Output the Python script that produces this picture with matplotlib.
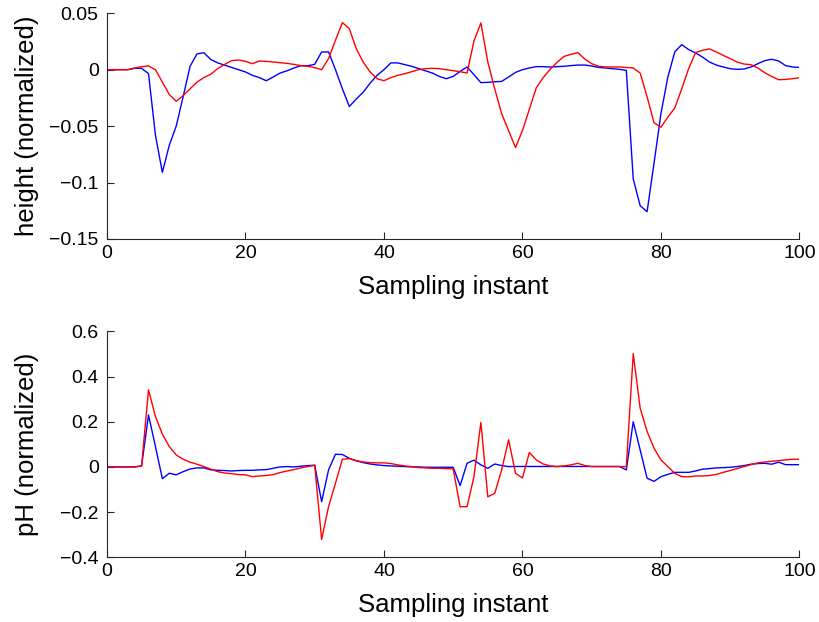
import matplotlib
matplotlib.use("Agg")
import matplotlib.pyplot as plt
import numpy as np

plt.rcParams['font.family'] = ['Liberation Sans', 'DejaVu Sans']

# ---- data ----
samples = list(range(101))

height_blue = [0, 0, 0, 0, 0.0012, 0.0012, -0.0035, -0.058, -0.091, -0.067,
               -0.050, -0.024, 0.003, 0.014, 0.015, 0.009, 0.006, 0.004, 0.002, 0.000,
               -0.002, -0.005, -0.007, -0.0098, -0.0065, -0.003, -0.001, 0.0015, 0.0035, 0.0035,
               0.0047, 0.0157, 0.0157, 0.000, -0.017, -0.0326, -0.026, -0.020, -0.012, -0.005,
               0.000, 0.006, 0.006, 0.0045, 0.003, 0.001, -0.001, -0.003, -0.006, -0.008,
               -0.006, -0.0015, 0.0024, -0.0044, -0.0115, -0.0112, -0.0107, -0.0104, -0.0065, -0.0024,
               0.000, 0.0015, 0.0027, 0.0027, 0.0024, 0.0027, 0.003, 0.0036, 0.0041, 0.0041,
               0.0033, 0.002, 0.0015, 0.0009, 0.0003, -0.0006, -0.0968, -0.1205, -0.1258, -0.083,
               -0.039, -0.0065, 0.0157, 0.0222, 0.0178, 0.0148, 0.0112, 0.0068, 0.0041, 0.0024,
               0.0009, 0.0003, 0.0006, 0.0024, 0.0053, 0.008, 0.0092, 0.0077, 0.0036, 0.0024,
               0.002]

height_red = [0, 0, 0, 0, 0.0015, 0.0027, 0.0033, 0.000, -0.011, -0.022,
              -0.028, -0.023, -0.017, -0.011, -0.007, -0.004, 0.001, 0.0047, 0.008, 0.0086,
              0.0074, 0.0053, 0.0077, 0.0074, 0.0068, 0.0062, 0.0056, 0.0047, 0.0036, 0.003,
              0.0018, 0.000, 0.0098, 0.026, 0.0417, 0.0364, 0.0186, 0.0068, -0.002, -0.008,
              -0.0098, -0.007, -0.005, -0.0036, -0.0018, 0.000, 0.0009, 0.0012, 0.0009, 0.000,
              -0.0009, -0.0018, -0.003, 0.0255, 0.0414, 0.0068, -0.017, -0.039, -0.054, -0.069,
              -0.054, -0.035, -0.016, -0.007, 0.0003, 0.0065, 0.0118, 0.0136, 0.0151, 0.0095,
              0.0053, 0.003, 0.0024, 0.0024, 0.0024, 0.002, 0.0015, -0.003, -0.024, -0.047,
              -0.051, -0.042, -0.034, -0.017, 0.0009, 0.0151, 0.0172, 0.0184, 0.0157, 0.0127,
              0.0098, 0.0068, 0.005, 0.0044, 0.0015, -0.0027, -0.006, -0.0089, -0.0086, -0.008,
              -0.0071]

ph_blue = [0, 0, 0, 0, 0, 0.0044, 0.23, 0.09, -0.052, -0.028,
           -0.035, -0.021, -0.009, -0.0044, -0.0044, -0.013, -0.015, -0.016, -0.018, -0.016,
           -0.015, -0.015, -0.013, -0.012, -0.006, 0.000, 0.0015, 0.000, 0.003, 0.006,
           0.0074, -0.154, -0.013, 0.056, 0.055, 0.038, 0.027, 0.019, 0.013, 0.009,
           0.006, 0.0044, 0.003, 0.0015, 0.000, 0.000, -0.0015, -0.0015, -0.0015, -0.0015,
           -0.0015, -0.083, 0.016, 0.030, 0.009, -0.006, 0.013, 0.006, 0.0015, 0.002,
           0.002, 0.002, 0.002, 0.002, 0.002, 0.002, 0.002, 0.002, 0.002, 0.002,
           0.002, 0.002, 0.002, 0.002, 0.002, -0.013, 0.20, 0.075, -0.050, -0.064,
           -0.043, -0.033, -0.024, -0.024, -0.024, -0.018, -0.010, -0.0074, -0.0044, -0.003,
           -0.0015, 0.0015, 0.006, 0.012, 0.015, 0.016, 0.012, 0.021, 0.010, 0.010,
           0.010]

ph_red = [0, 0, 0, 0, 0, 0.0044, 0.341, 0.223, 0.145, 0.090,
          0.053, 0.034, 0.021, 0.012, 0.0015, -0.010, -0.021, -0.027, -0.030, -0.034,
          -0.035, -0.043, -0.040, -0.038, -0.034, -0.025, -0.018, -0.012, -0.0044, 0.0015,
          0.0074, -0.321, -0.176, -0.072, 0.034, 0.037, 0.028, 0.022, 0.019, 0.018,
          0.018, 0.015, 0.009, 0.0044, 0.0015, -0.003, -0.0044, -0.006, -0.006, -0.0074,
          -0.009, -0.176, -0.176, -0.043, 0.197, -0.132, -0.117, -0.013, 0.120, -0.028,
          -0.049, 0.064, 0.031, 0.013, 0.0044, 0.0015, 0.0044, 0.009, 0.016, 0.006,
          0.0015, 0.0015, 0.0015, 0.0015, 0.0015, 0.0015, 0.501, 0.26, 0.157, 0.083,
          0.031, 0.0015, -0.028, -0.043, -0.044, -0.040, -0.040, -0.038, -0.033, -0.024,
          -0.016, -0.0074, 0.0015, 0.010, 0.018, 0.022, 0.025, 0.028, 0.031, 0.034,
          0.034]

x_ticks = [0, 20, 40, 60, 80, 100]
x_ticklabels = ['0', '20', '40', '60', '80', '100']
top_yticks = [-0.15, -0.1, -0.05, 0, 0.05]
top_yticklabels = ['\u22120.15', '\u22120.1', '\u22120.05', '0', '0.05']
bot_yticks = [-0.4, -0.2, 0, 0.2, 0.4, 0.6]
bot_yticklabels = ['\u22120.4', '\u22120.2', '0', '0.2', '0.4', '0.6']

xlabel = 'Sampling instant'
top_ylabel = 'height (normalized)'
bot_ylabel = 'pH (normalized)'

# ---- figure ----
fig = plt.figure(figsize=(8.19, 6.22), dpi=100)
ax1 = fig.add_axes([0.1306, 0.6158, 0.8455, 0.3629])
ax2 = fig.add_axes([0.1306, 0.1040, 0.8455, 0.3633])


def style(ax, yticks, yticklabels, ylim, ylabel):
    ax.set_xlim(0, 100)
    ax.set_ylim(*ylim)
    ax.set_xticks(x_ticks)
    ax.set_xticklabels(x_ticklabels)
    ax.set_yticks(yticks)
    ax.set_yticklabels(yticklabels)
    for s in ['top', 'right']:
        ax.spines[s].set_visible(False)
    for s in ['left', 'bottom']:
        ax.spines[s].set_color('#262626')
        ax.spines[s].set_linewidth(0.8)
    ax.tick_params(direction='in', length=5, width=0.8, colors='#262626',
                   labelcolor='black', labelsize=14)
    ax.tick_params(axis='y', pad=6)
    ax.tick_params(axis='x', pad=4)
    ax.set_xlabel(xlabel, fontsize=18.5)
    ax.set_ylabel(ylabel, fontsize=18.5)
    ax.xaxis.set_label_coords(0.5, -0.16)
    ax.yaxis.set_label_coords(-0.098, 0.5)


ax1.plot(samples, height_blue, color='#0000ff', lw=1.0)
ax1.plot(samples, height_red, color='#ff0000', lw=1.0)
style(ax1, top_yticks, top_yticklabels, (-0.15, 0.05), top_ylabel)

ax2.plot(samples, ph_blue, color='#0000ff', lw=1.0)
ax2.plot(samples, ph_red, color='#ff0000', lw=1.0)
style(ax2, bot_yticks, bot_yticklabels, (-0.4, 0.6), bot_ylabel)

fig.savefig('out.png', dpi=100)
